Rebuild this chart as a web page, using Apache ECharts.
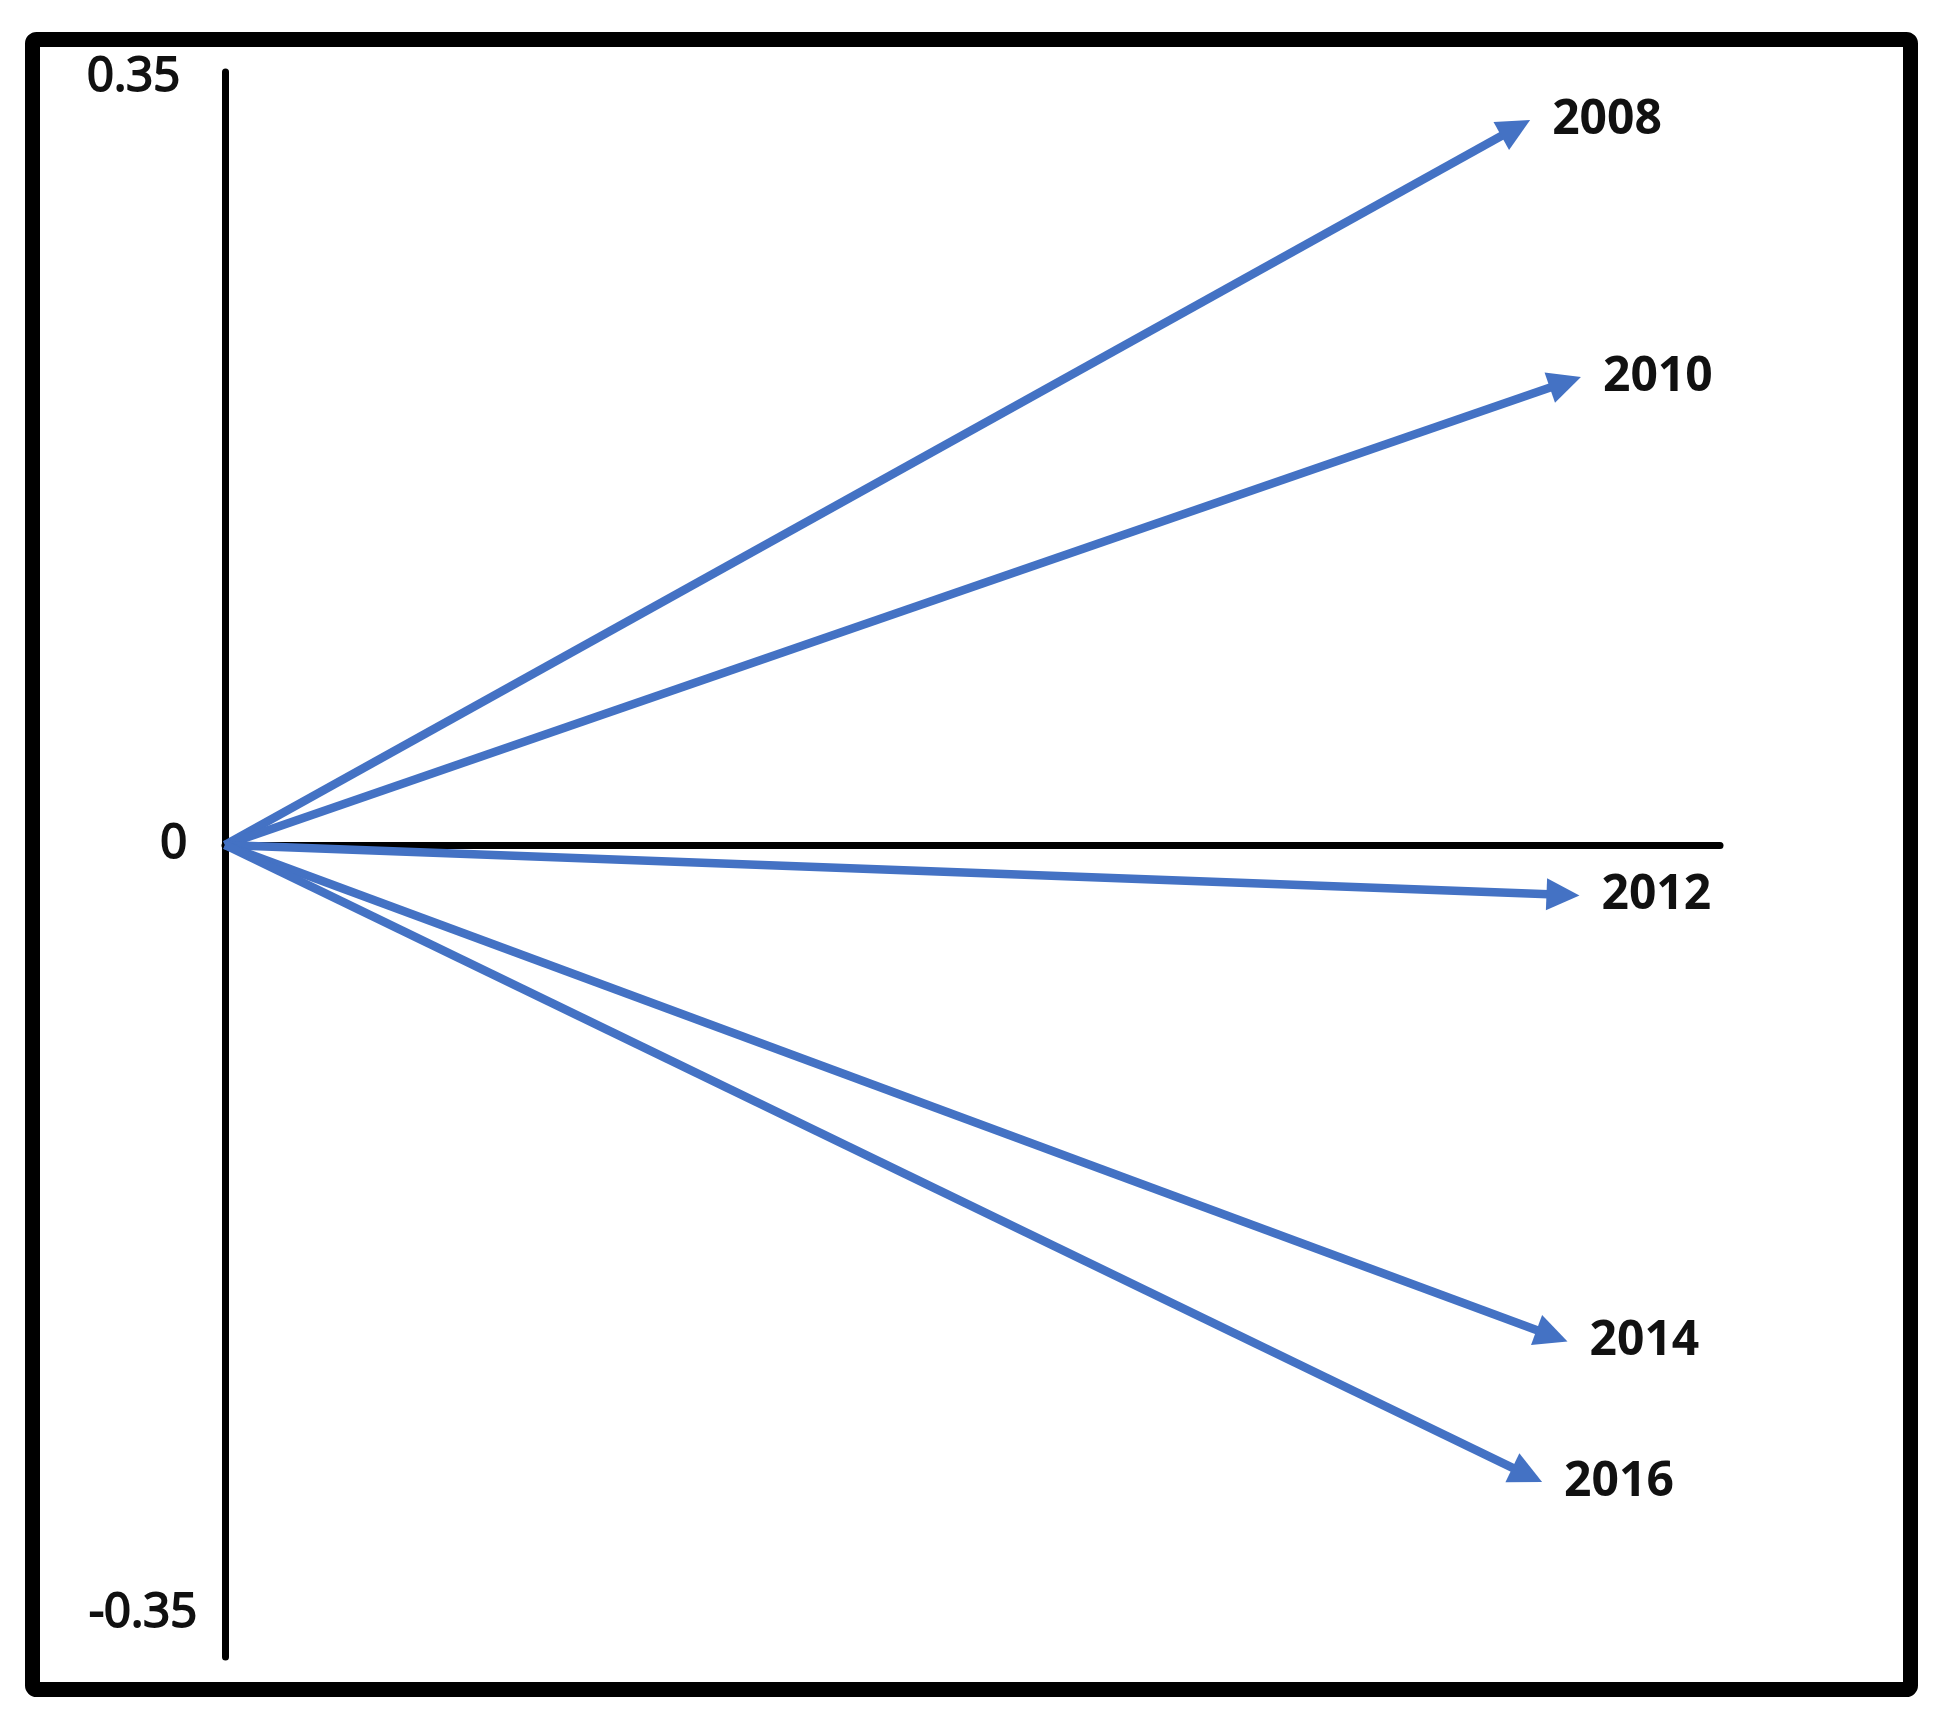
<!DOCTYPE html>
<html>
<head>
<meta charset="utf-8">
<script src="https://cdn.jsdelivr.net/npm/echarts@6/dist/echarts.min.js"></script>
<style>
html,body{margin:0;padding:0;background:#fff;}
#chart{width:1940px;height:1717px;}
</style>
</head>
<body>
<div id="chart"></div>
<script>
// ---- data ----
const years = ['2008', '2010', '2012', '2014', '2016'];
const xValues = [0.873, 0.907, 0.906, 0.898, 0.881];
const yValues = [0.330, 0.213, -0.023, -0.226, -0.290];
const yTickValues = [-0.35, 0, 0.35];
const yTickLabels = ['-0.35', '0', '0.35'];

const BLUE = '#4472C4';
const FONT = "'Open Sans', 'Noto Sans', sans-serif";

const chart = echarts.init(document.getElementById('chart'), null, {renderer: 'canvas'});

const seriesData = years.map((y, i) => [xValues[i], yValues[i], y]);

const labelStyleKey = {'0.35': 'top', '0': 'mid', '-0.35': 'bot'};
const axisFont = {fontFamily: FONT, fontSize: 47, fontWeight: 'normal', color: '#111', textBorderColor: '#111', textBorderWidth: 2};

const option = {
  backgroundColor: '#ffffff',
  animation: false,
  grid: {left: 225, right: 220, top: 72, bottom: 60, containLabel: false},
  xAxis: {
    type: 'value',
    min: 0,
    max: 1,
    axisLine: {show: true, onZero: true, lineStyle: {color: '#000', width: 7}},
    axisTick: {show: false},
    axisLabel: {show: false},
    splitLine: {show: false}
  },
  yAxis: {
    type: 'value',
    min: -0.3696,
    max: 0.3518,
    axisLine: {show: true, onZero: true, lineStyle: {color: '#000', width: 7}},
    axisTick: {show: false},
    splitLine: {show: false},
    axisLabel: {
      show: true,
      customValues: yTickValues,
      margin: 28,
      formatter: function (v) {
        let idx = yTickValues.findIndex(t => Math.abs(t - v) < 1e-9);
        let txt = idx >= 0 ? yTickLabels[idx] : String(v);
        return '{' + labelStyleKey[txt] + '|' + txt + '}';
      },
      rich: {
        top: Object.assign({}, axisFont, {padding: [4, 17, 0, 0]}),
        mid: Object.assign({}, axisFont, {padding: [0, 10, 0, 0]}),
        bot: Object.assign({}, axisFont, {padding: [0, 0, 0, 0]})
      }
    }
  },
  graphic: [{
    type: 'rect',
    shape: {x: 32.5, y: 39.5, width: 1878, height: 1650, r: 4},
    style: {fill: 'none', stroke: '#000', lineWidth: 15},
    z: 100
  }],
  series: [{
    type: 'custom',
    coordinateSystem: 'cartesian2d',
    clip: false,
    encode: {x: 0, y: 1},
    data: seriesData,
    renderItem: function (params, api) {
      const start = api.coord([0, 0]);
      const end = api.coord([api.value(0), api.value(1)]);
      const dx = end[0] - start[0], dy = end[1] - start[1];
      const len = Math.sqrt(dx * dx + dy * dy);
      const ux = dx / len, uy = dy / len;
      const nx = -uy, ny = ux;
      const headLen = 33, headHalf = 16;
      const bx = end[0] - ux * headLen, by = end[1] - uy * headLen;
      const name = seriesData[params.dataIndex][2];
      return {
        type: 'group',
        children: [
          {
            type: 'line',
            shape: {x1: start[0], y1: start[1], x2: bx + ux * 2, y2: by + uy * 2},
            style: {stroke: BLUE, lineWidth: 8.5, lineCap: 'butt'}
          },
          {
            type: 'polygon',
            shape: {points: [[end[0], end[1]], [bx + nx * headHalf, by + ny * headHalf], [bx - nx * headHalf, by - ny * headHalf]]},
            style: {fill: BLUE}
          },
          {
            type: 'text',
            x: end[0] + 22,
            y: end[1],
            style: {
              text: name,
              fontFamily: FONT,
              fontSize: 48,
              fontWeight: 'bold',
              fill: '#111',
              align: 'left',
              verticalAlign: 'middle'
            }
          }
        ]
      };
    }
  }]
};

chart.setOption(option);
</script>
</body>
</html>
